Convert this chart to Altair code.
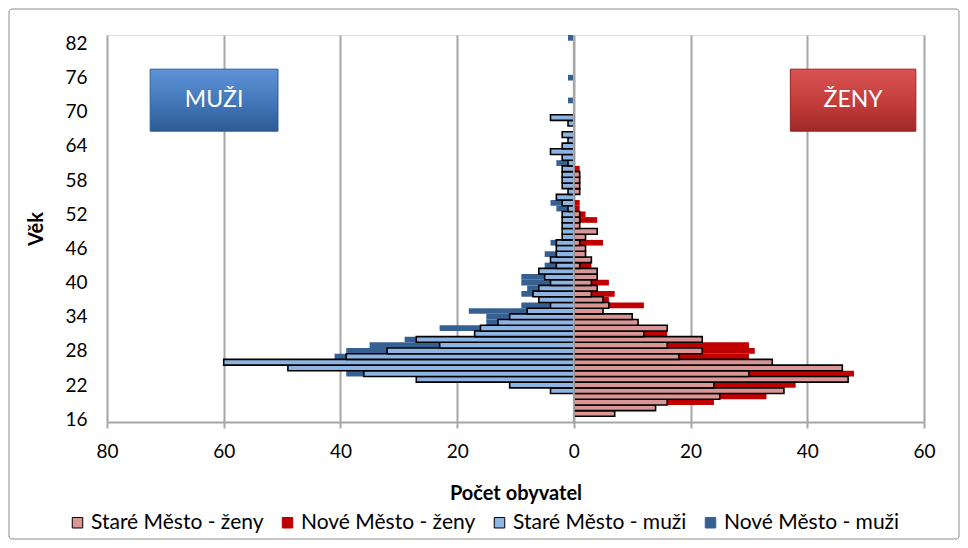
import altair as alt
import pandas as pd

# ---------------- data (ages 16..83) ----------------
ages = list(range(16, 84))

series_names = ["Staré Město - ženy", "Nové Město - ženy",
                "Staré Město - muži", "Nové  Město - muži"]

stare_zeny = [0, 7, 14, 16, 25, 36, 24, 47, 30, 46,
              34, 18, 22, 16, 22, 12, 16, 11, 10, 5,
              6, 5, 3, 4, 3, 4, 4, 1, 3, 2,
              2, 1, 2, 4, 1, 1, 1, 0, 0, 0,
              1, 1, 1, 1, 0, 0, 0, 0, 0, 0,
              0, 0, 0, 0, 0, 0, 0, 0, 0, 0,
              0, 0, 0, 0, 0, 0, 0, 0]

nove_zeny = [0, 5, 10, 24, 33, 30, 38, 40, 48, 35,
             28, 30, 31, 30, 14, 16, 10, 8, 6, 4,
             12, 6, 7, 2, 6, 3, 2, 3, 2, 1,
             1, 5, 1, 2, 0, 4, 2, 1, 1, 0,
             0, 0, 0, 0, 1, 0, 0, 0, 0, 0,
             0, 0, 0, 0, 0, 0, 0, 0, 0, 0,
             0, 0, 0, 0, 0, 0, 0, 0]

stare_muzi = [0, 0, 0, 0, 0, 4, 11, 27, 36, 49,
              60, 39, 32, 23, 27, 17, 16, 13, 11, 8,
              4, 6, 7, 6, 4, 5, 6, 3, 4, 3,
              3, 3, 2, 2, 2, 2, 2, 1, 2, 3,
              1, 2, 2, 2, 2, 1, 2, 4, 2, 1,
              2, 0, 1, 4, 0, 0, 0, 0, 0, 0,
              0, 0, 0, 0, 0, 0, 0, 0]

nove_muzi = [0, 0, 0, 0, 0, 2, 8, 20, 39, 40,
             45, 41, 39, 35, 29, 12, 23, 15, 15, 18,
             9, 4, 9, 8, 9, 9, 4, 5, 2, 5,
             2, 4, 1, 1, 1, 1, 1, 3, 4, 1,
             0, 1, 1, 1, 1, 3, 1, 2, 1, 0,
             1, 0, 0, 2, 0, 0, 1, 0, 0, 0,
             1, 0, 0, 0, 0, 0, 0, 1]

x_ticks = [-80, -60, -40, -20, 0, 20, 40, 60]
y_ticks = [16, 22, 28, 34, 40, 46, 52, 58, 64, 70, 76, 82]

fills = ["#D99694", "#C00000", "#8EB4E3", "#376092"]
outlines = ["#000000", "#C00000", "#000000", "#376092"]

# annotation boxes (in data units)
box_labels = ["MUŽI", "ŽENY"]
box_x1 = [-72.6, 37.1]
box_x2 = [-50.7, 58.6]
box_y1 = [66.6, 66.6]
box_y2 = [77.5, 77.5]

FONT = "Lato"


def long(values, name, sign):
    return pd.DataFrame({"age": ages,
                         "value": [sign * v for v in values],
                         "series": name})


nove = pd.concat([long(nove_zeny, series_names[1], 1),
                  long(nove_muzi, series_names[3], -1)])
stare = pd.concat([long(stare_zeny, series_names[0], 1),
                   long(stare_muzi, series_names[2], -1)])
nove = nove[nove.value != 0]
stare = stare[stare.value != 0]

x_scale = alt.Scale(domain=[-80, 60], nice=False, zero=False)
y_scale = alt.Scale(domain=[15.5, 83.5], nice=False, zero=False)

legend = alt.Legend(orient="none", legendX=-40, legendY=477,
                    direction="horizontal", title=None,
                    symbolType="square", symbolSize=110,
                    symbolStrokeWidth=1, labelFontSize=21,
                    labelFont=FONT, labelColor="#000000",
                    columnPadding=13, labelOffset=3, labelLimit=400)

fill_enc = alt.Fill("series:N", scale=alt.Scale(domain=series_names, range=fills),
                    legend=legend)
stroke_enc = alt.Stroke("series:N", scale=alt.Scale(domain=series_names, range=outlines),
                        legend=legend)

x_axis = alt.Axis(values=x_ticks, labelExpr="abs(datum.value)",
                  grid=True, gridColor="#A6A6A6", gridWidth=2,
                  domainColor="#A6A6A6", domainWidth=2,
                  tickColor="#A6A6A6", tickWidth=2, tickSize=6,
                  labelFontSize=19, labelFont=FONT, labelColor="#000000",
                  labelPadding=14, labelFlush=False, labelOverlap=False,
                  title="Počet obyvatel",
                  titleFontSize=20, titleFont=FONT, titleFontWeight="bold",
                  titleColor="#000000", titlePadding=22)
y_axis = alt.Axis(values=y_ticks, grid=False, ticks=False, domain=False,
                  labelFontSize=19, labelFont=FONT, labelColor="#000000",
                  labelPadding=20, labelFlush=False, labelOverlap=False,
                  labelBound=False, title="Věk",
                  titleFontSize=20, titleFont=FONT, titleFontWeight="bold",
                  titleColor="#000000", titlePadding=18)


def bars(df, width):
    return alt.Chart(df).mark_bar(strokeWidth=width).transform_calculate(
        y_lo="datum.age - 0.5", y_hi="datum.age + 0.5", zero="0"
    ).encode(
        x=alt.X("value:Q", scale=x_scale, axis=x_axis),
        x2="zero:Q",
        y=alt.Y("y_lo:Q", scale=y_scale, axis=y_axis),
        y2="y_hi:Q",
        fill=fill_enc,
        stroke=stroke_enc,
    )


nove_layer = bars(nove, 0)
stare_layer = bars(stare, 1.6)

zero_rule = alt.Chart(pd.DataFrame({"z": [0]})).mark_rule(
    color="#A6A6A6", strokeWidth=2).encode(
    x=alt.X("z:Q", scale=x_scale, axis=x_axis))

boxes = pd.DataFrame({"label": box_labels, "x1": box_x1, "x2": box_x2,
                      "y1": box_y1, "y2": box_y2})
boxes["xc"] = (boxes.x1 + boxes.x2) / 2
boxes["yc"] = (boxes.y1 + boxes.y2) / 2

blue_grad = alt.LinearGradient(gradient="linear", x1=0, x2=0, y1=0, y2=1,
                               stops=[alt.GradientStop(color="#5E94D8", offset=0),
                                      alt.GradientStop(color="#3F73B4", offset=0.6),
                                      alt.GradientStop(color="#2E5B94", offset=1)])
red_grad = alt.LinearGradient(gradient="linear", x1=0, x2=0, y1=0, y2=1,
                              stops=[alt.GradientStop(color="#D85352", offset=0),
                                     alt.GradientStop(color="#C03A39", offset=0.6),
                                     alt.GradientStop(color="#A02828", offset=1)])


def box(i, grad, edge):
    d = boxes.iloc[[i]]
    r = alt.Chart(d).mark_rect(color=grad, stroke=edge, strokeWidth=1).encode(
        x=alt.X("x1:Q", scale=x_scale, axis=x_axis), x2="x2:Q",
        y=alt.Y("y1:Q", scale=y_scale, axis=y_axis), y2="y2:Q")
    t = alt.Chart(d).mark_text(color="white", fontSize=23, font=FONT,
                               align="center", baseline="middle").encode(
        x=alt.X("xc:Q", scale=x_scale, axis=x_axis),
        y=alt.Y("yc:Q", scale=y_scale, axis=y_axis),
        text="label:N")
    return r + t


frame = alt.Chart(pd.DataFrame({"f": [0]})).mark_rect(
    filled=False, stroke="#8C8C8C", strokeWidth=1, cornerRadius=3).encode(
    x=alt.value(-98), x2=alt.value(817 + 35),
    y=alt.value(-26), y2=alt.value(387 + 117))

chart = alt.layer(
    frame, nove_layer, stare_layer, zero_rule,
    box(0, blue_grad, "#2F5D92"), box(1, red_grad, "#8E2626"),
).properties(
    width=817, height=387,
    autosize=alt.AutoSizeParams(type="none"),
    padding={"left": 99, "top": 27, "right": 36, "bottom": 118},
).configure_view(stroke=None).configure(background="white").configure_axis(
    labelOverlap=False)

chart.save("out.html", embed_options={"renderer": "svg", "actions": False})
